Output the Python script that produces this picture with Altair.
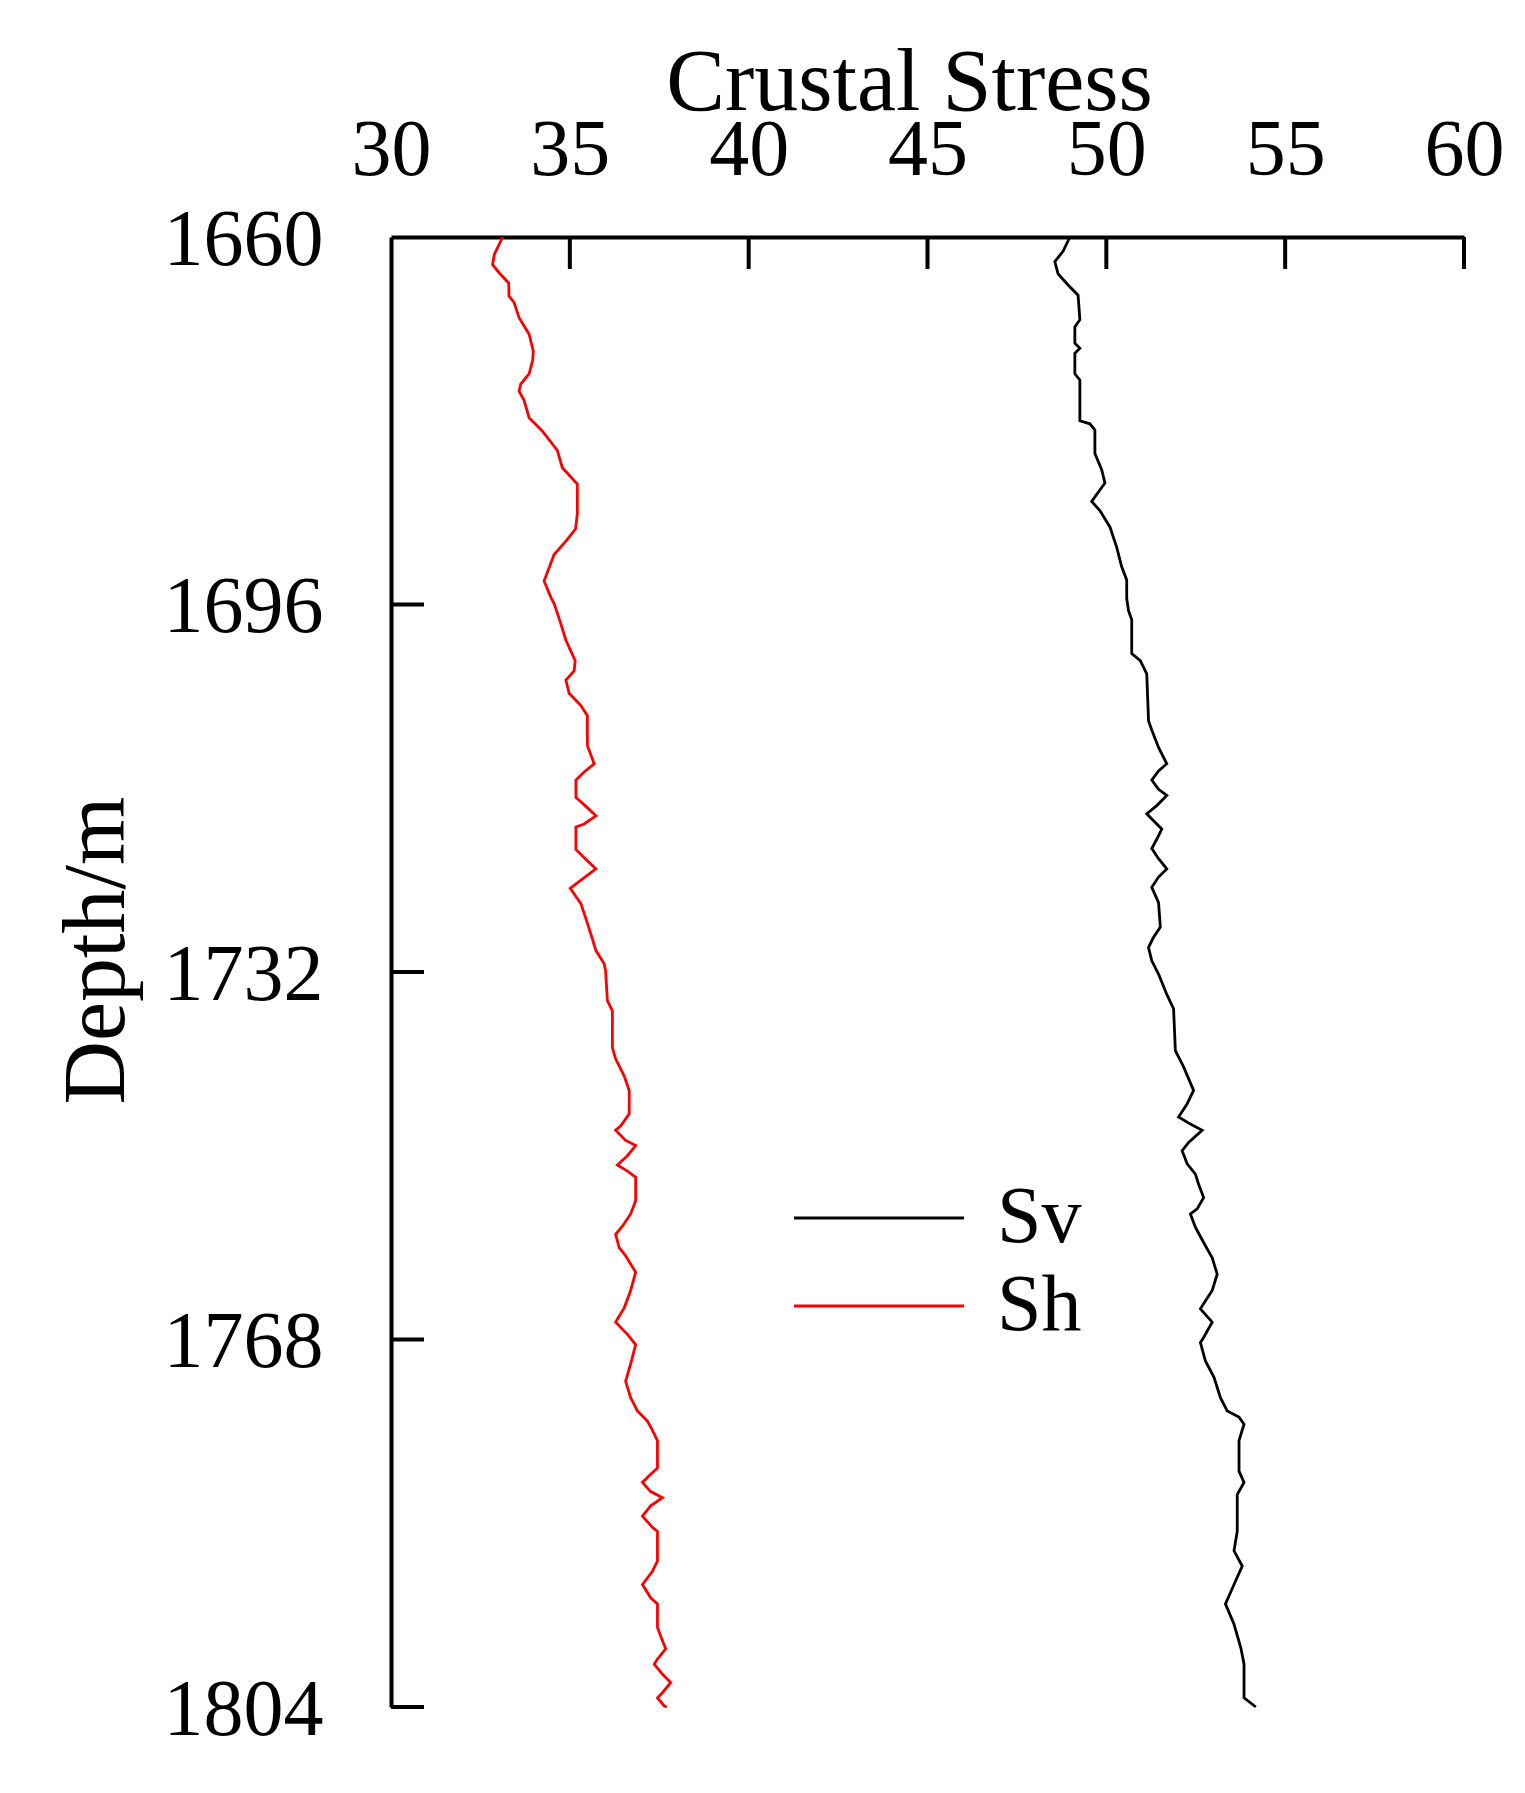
import altair as alt
import pandas as pd

# ---- data ----
sh_depth = [1660.0, 1661.7, 1662.7, 1663.5, 1664.5, 1665.8, 1666.4, 1667.9, 1669.5, 1671.2,
            1672.1, 1673.4, 1674.4, 1675.1, 1676.0, 1677.7, 1679.0, 1680.9, 1682.6, 1684.2,
            1687.1, 1688.6, 1689.8, 1691.1, 1692.4, 1693.7, 1695.3, 1695.9, 1697.9, 1699.5,
            1701.5, 1702.5, 1703.4, 1704.7, 1705.9, 1706.9, 1709.8, 1711.6, 1712.4, 1713.2,
            1714.9, 1715.9, 1716.7, 1717.5, 1717.8, 1720.0, 1720.8, 1721.9, 1723.0, 1723.8,
            1725.3, 1726.8, 1728.3, 1729.9, 1731.2, 1731.9, 1734.8, 1735.8, 1739.4, 1740.5,
            1742.2, 1743.6, 1745.9, 1747.1, 1747.5, 1748.5, 1749.0, 1750.0, 1750.9, 1751.5,
            1752.1, 1754.4, 1755.7, 1756.9, 1757.7, 1759.0, 1759.8, 1761.4, 1763.2, 1764.9,
            1766.3, 1767.5, 1768.5, 1770.4, 1772.1, 1773.7, 1775.0, 1776.0, 1776.9, 1777.9,
            1780.6, 1781.2, 1782.0, 1782.9, 1783.5, 1784.3, 1785.3, 1786.4, 1786.8, 1789.7,
            1790.7, 1792.0, 1793.3, 1793.9, 1796.2, 1797.5, 1798.3, 1799.3, 1799.8, 1800.8,
            1801.6, 1802.6, 1803.1, 1803.9, 1804.0]
sh_value = [33.12, 32.89, 32.84, 33.02, 33.29, 33.30, 33.44, 33.58, 33.86, 33.98,
            33.96, 33.86, 33.63, 33.58, 33.72, 33.86, 34.23, 34.65, 34.79, 35.21,
            35.21, 35.16, 34.89, 34.56, 34.42, 34.28, 34.47, 34.56, 34.75, 34.89,
            35.15, 35.12, 34.89, 34.98, 35.31, 35.49, 35.49, 35.68, 35.40, 35.17,
            35.17, 35.49, 35.73, 35.40, 35.17, 35.17, 35.40, 35.73, 35.31, 35.01,
            35.31, 35.45, 35.59, 35.73, 35.96, 36.00, 36.05, 36.19, 36.19, 36.28,
            36.52, 36.66, 36.66, 36.42, 36.28, 36.56, 36.84, 36.61, 36.33, 36.61,
            36.84, 36.84, 36.70, 36.47, 36.28, 36.38, 36.56, 36.84, 36.70, 36.52,
            36.28, 36.61, 36.84, 36.70, 36.56, 36.70, 36.89, 37.17, 37.31, 37.45,
            37.45, 37.26, 37.03, 37.26, 37.59, 37.26, 37.03, 37.31, 37.45, 37.45,
            37.31, 37.03, 37.26, 37.45, 37.45, 37.59, 37.68, 37.45, 37.36, 37.59,
            37.82, 37.59, 37.45, 37.64, 37.71]

sv_depth = [1660.0, 1661.4, 1662.4, 1663.6, 1664.7, 1665.7, 1668.1, 1668.8, 1670.4, 1670.9,
            1671.4, 1673.4, 1674.0, 1678.0, 1678.3, 1678.9, 1681.2, 1682.8, 1684.1, 1685.9,
            1686.8, 1688.4, 1690.4, 1692.3, 1693.6, 1695.4, 1696.6, 1697.5, 1700.8, 1701.5,
            1702.8, 1707.4, 1708.3, 1710.0, 1711.6, 1712.3, 1713.2, 1714.1, 1714.7, 1715.7,
            1716.5, 1717.5, 1718.0, 1719.0, 1719.9, 1720.9, 1721.9, 1722.7, 1723.7, 1725.2,
            1727.6, 1728.6, 1729.6, 1730.9, 1732.2, 1734.2, 1735.6, 1739.7, 1741.3, 1743.6,
            1744.9, 1746.2, 1746.9, 1747.5, 1748.7, 1749.5, 1750.8, 1751.8, 1752.8, 1754.1,
            1755.2, 1755.7, 1757.0, 1758.5, 1760.0, 1761.6, 1763.2, 1764.5, 1765.0, 1766.3,
            1767.8, 1768.3, 1770.1, 1771.7, 1773.7, 1775.0, 1775.6, 1776.3, 1777.9, 1780.9,
            1782.0, 1783.2, 1786.8, 1788.7, 1790.2, 1792.0, 1793.9, 1795.9, 1798.2, 1799.8,
            1803.1, 1804.0]
sv_value = [48.98, 48.79, 48.56, 48.65, 48.93, 49.21, 49.26, 49.12, 49.12, 49.26,
            49.12, 49.12, 49.26, 49.26, 49.54, 49.68, 49.68, 49.87, 49.96, 49.59,
            49.82, 50.10, 50.29, 50.43, 50.57, 50.57, 50.62, 50.71, 50.71, 50.95,
            51.13, 51.18, 51.27, 51.46, 51.69, 51.46, 51.27, 51.46, 51.69, 51.41,
            51.13, 51.41, 51.55, 51.41, 51.27, 51.46, 51.69, 51.46, 51.27, 51.46,
            51.51, 51.32, 51.18, 51.27, 51.46, 51.69, 51.88, 51.93, 52.16, 52.44,
            52.26, 52.02, 52.35, 52.68, 52.30, 52.12, 52.26, 52.49, 52.58, 52.72,
            52.54, 52.35, 52.49, 52.72, 52.96, 53.10, 52.96, 52.72, 52.63, 52.96,
            52.72, 52.63, 52.77, 53.01, 53.19, 53.38, 53.71, 53.85, 53.71, 53.71,
            53.85, 53.66, 53.66, 53.57, 53.80, 53.57, 53.33, 53.57, 53.76, 53.85,
            53.85, 54.18]

series_names = ["Sv", "Sh"]
series_colors = ["#000000", "#ff0000"]
x_tick_values = [30, 35, 40, 45, 50, 55, 60]
y_tick_values = [1660, 1696, 1732, 1768, 1804]

FONT = "Liberation Serif"

lines_df = pd.concat([
    pd.DataFrame({"depth": sv_depth, "value": sv_value, "series": "Sv"}),
    pd.DataFrame({"depth": sh_depth, "value": sh_value, "series": "Sh"}),
], ignore_index=True)

xticks_df = pd.DataFrame({"value": x_tick_values[1:]})
yticks_df = pd.DataFrame({"depth": y_tick_values[1:]})

x_scale = alt.Scale(domain=[30, 60], nice=False, zero=False)
y_scale = alt.Scale(domain=[1660, 1804], nice=False, zero=False, reverse=True)

x_axis = alt.Axis(
    orient="top", values=x_tick_values, grid=False, ticks=False, tickSize=0,
    domainWidth=4, domainColor="black", format="d", labelLimit=0,
    labelFont=FONT, labelFontSize=80, labelColor="black", labelPadding=46,
    labelFlush=False, labelOverlap=False, labelBound=False,
    title="Crustal Stress", titleFont=FONT, titleFontSize=88, titleFontWeight="normal",
    titleColor="black", titleBaseline="alphabetic", titleAlign="center",
    titleX=518, titleY=-128,
)
y_axis = alt.Axis(
    orient="left", values=y_tick_values, grid=False, ticks=False, tickSize=0,
    domainWidth=4, domainColor="black", format="d", labelLimit=0,
    labelFont=FONT, labelFontSize=80, labelColor="black", labelPadding=68,
    labelBaseline="middle", labelOffset=3,
    labelFlush=False, labelOverlap=False, labelBound=False,
    title="Depth/m", titleFont=FONT, titleFontSize=88, titleFontWeight="normal",
    titleColor="black", titleAngle=270, titleBaseline="alphabetic", titleAlign="center",
    titleX=-268, titleY=713,
)

lines = alt.Chart(lines_df).mark_line(strokeWidth=2.8, interpolate="linear").encode(
    x=alt.X("value:Q", scale=x_scale, axis=x_axis),
    y=alt.Y("depth:Q", scale=y_scale, axis=y_axis),
    order=alt.Order("depth:Q"),
    color=alt.Color(
        "series:N",
        scale=alt.Scale(domain=series_names, range=series_colors),
        sort=series_names,
        legend=alt.Legend(
            title=None, orient="none", legendX=448, legendY=941,
            symbolType="M-5,0H5", symbolSize=1156, symbolStrokeWidth=3,
            labelFont=FONT, labelFontSize=80, labelColor="black",
            labelOffset=78, rowPadding=8, padding=0,
        ),
    ),
)

xticks = alt.Chart(xticks_df).mark_rule(color="black", strokeWidth=4).encode(
    x=alt.X("value:Q", scale=x_scale, axis=x_axis),
    y=alt.value(0),
    y2=alt.value(32),
)
yticks = alt.Chart(yticks_df).mark_rule(color="black", strokeWidth=4).encode(
    y=alt.Y("depth:Q", scale=y_scale, axis=y_axis),
    x=alt.value(0),
    x2=alt.value(33),
)

chart = alt.layer(lines, xticks, yticks).properties(
    width=1073, height=1470,
    autosize=alt.AutoSizeParams(type="none"),
    padding={"left": 383, "top": 229, "right": 50, "bottom": 60},
    background="white",
).configure_view(stroke=None)

chart.save("out.html", embed_options={"renderer": "svg", "actions": False})
